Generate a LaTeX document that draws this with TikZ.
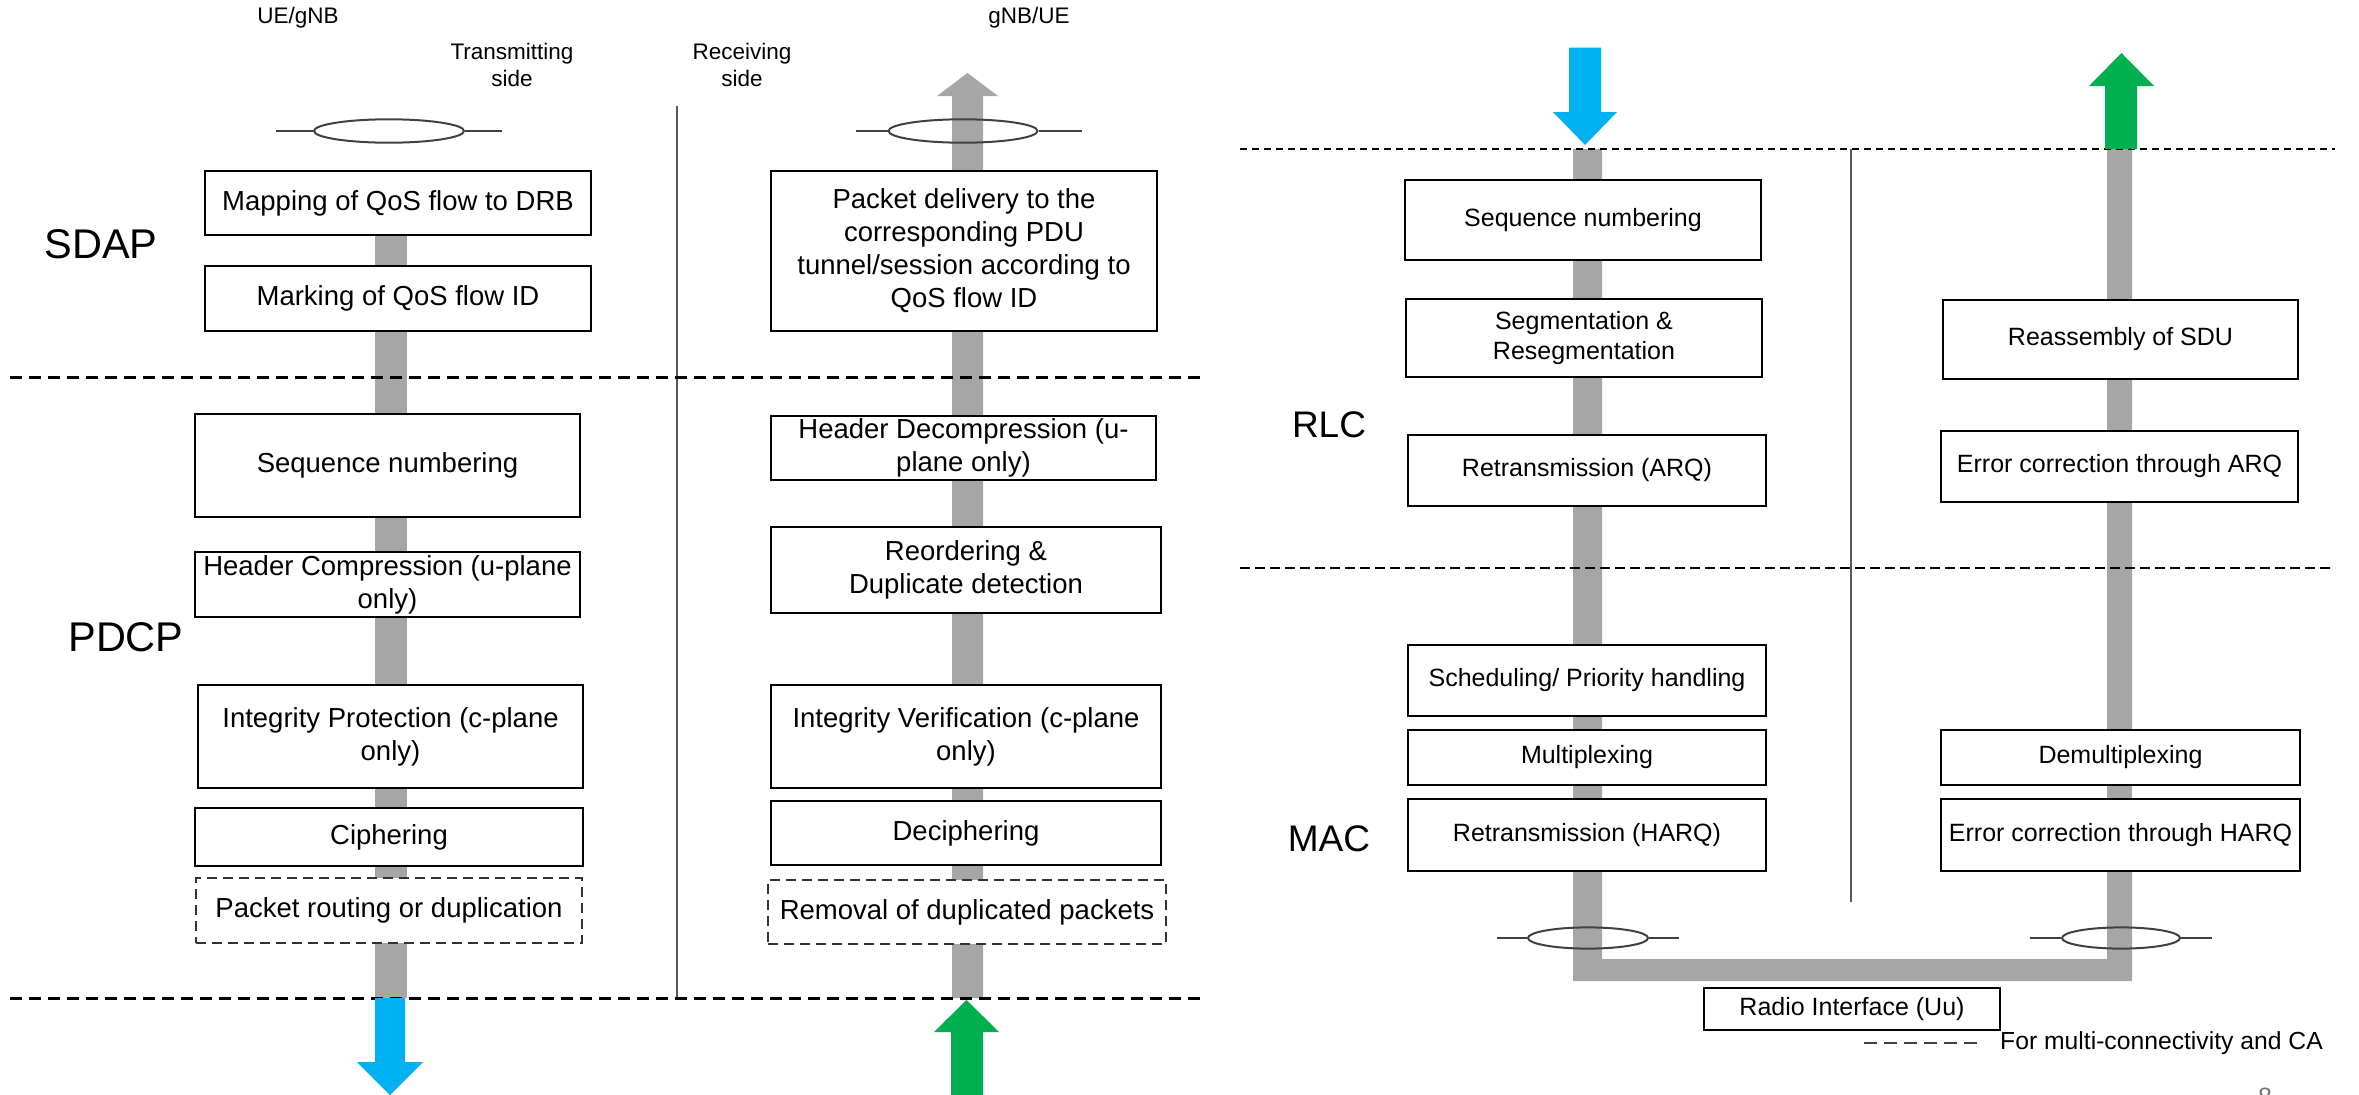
\documentclass[tikz,border=0pt]{standalone}
\usepackage{fontspec}
\setmainfont{Liberation Sans}
\usetikzlibrary{shapes.geometric}
\definecolor{barfill}{HTML}{A6A6A6}
\definecolor{txblue}{HTML}{00B0F0}
\definecolor{rxgreen}{HTML}{00B050}
\definecolor{rim}{HTML}{404040}
\definecolor{sepline}{HTML}{5A5A5A}

\begin{document}
\begin{tikzpicture}[x=1pt,y=-1pt,
  fnbox/.style={draw=black, line width=2pt, fill=white, inner sep=0pt, align=center,
                font=\fontsize{27.5}{33}\selectfont},
  fnboxr/.style={fnbox, font=\fontsize{25}{30}\selectfont},
  fnopt/.style={fnbox, draw=black!80, dash pattern=on 10pt off 6pt},
  layerlbl/.style={font=\fontsize{41.5}{48}\selectfont},
  layerlblr/.style={font=\fontsize{37}{44}\selectfont},
  headlbl/.style={font=\fontsize{22.5}{27}\selectfont, align=center},
  ring/.style={ellipse, draw=rim, line width=2pt, inner sep=0pt},
  stub/.style={draw=rim, line width=2pt},
  sepv/.style={draw=sepline, line width=2pt},
  layerdash/.style={draw=black, line width=3pt, dash pattern=on 12pt off 7pt},
  thindash/.style={draw=black, line width=1.5pt, dash pattern=on 7pt off 5pt},
  flowbar/.style={fill=barfill, draw=none},
]
\useasboundingbox (0,0) rectangle (2359,1095);

% ---------------- left panel: SDAP / PDCP ----------------
% gray data paths
\fill[barfill] (375,171) rectangle (407,998);
\fill[barfill] (952,998) -- (952,96) -- (937,96) -- (967.5,73) -- (998,96)
  -- (983,96) -- (983,998) -- cycle;

% side separator
\coordinate (sepLtop) at (677,106);
\coordinate (sepLbot) at (677,1000);
\draw[sepv] (sepLtop) -- (sepLbot);

% layer boundaries
\coordinate (dl1a) at (10,377);   \coordinate (dl1b) at (1200,377);
\coordinate (dl2a) at (10,998);   \coordinate (dl2b) at (1200,998);
\draw[layerdash] (dl1a) -- (dl1b);
\draw[layerdash] (dl2a) -- (dl2b);

% headings
\node[headlbl] (ueg) at (298,18) {UE/gNB};
\node[headlbl] (gnbue) at (1029,18) {gNB/UE};
\node[headlbl] (txside) at (512,65) {Transmitting\\side};
\node[headlbl] (rxside) at (742,65) {Receiving\\side};

\node[layerlbl] (sdap) at (101,244) {SDAP};
\node[layerlbl] (pdcp) at (126,637) {PDCP};

% transmitting side functions
\node[fnbox, minimum width=386, minimum height=64] (a1) at (398,203) {Mapping of QoS flow to DRB};
\node[fnbox, minimum width=386, minimum height=65] (a2) at (398,298.5) {Marking of QoS flow ID};
\node[fnbox, minimum width=385, minimum height=103] (a3) at (387.5,465.5) {Sequence numbering};
\node[fnbox, minimum width=385, minimum height=65] (a4) at (387.5,584.5) {Header Compression (u-plane\\only)};
\node[fnbox, minimum width=385, minimum height=103] (a5) at (390.5,736.5) {Integrity Protection (c-plane\\only)};
\node[fnbox, minimum width=388, minimum height=58] (a6) at (389,837) {Ciphering};
\node[fnopt, minimum width=386, minimum height=65] (a7) at (389,910.5) {Packet routing or duplication};

% receiving side functions
\node[fnbox, minimum width=386, minimum height=160] (b1) at (964,251)
  {Packet delivery to the\\corresponding PDU\\tunnel/session according to\\QoS flow ID};
\node[fnbox, minimum width=385, minimum height=64] (b2) at (963.5,448) {Header Decompression (u-\\plane only)};
\node[fnbox, minimum width=390, minimum height=86] (b3) at (966,570) {Reordering \&\\Duplicate detection};
\node[fnbox, minimum width=390, minimum height=103] (b4) at (966,736.5) {Integrity Verification (c-plane\\only)};
\node[fnbox, minimum width=390, minimum height=64] (b5) at (966,833) {Deciphering};
\node[fnopt, minimum width=398, minimum height=64] (b6) at (967,912) {Removal of duplicated packets};

% QoS flow bundles above SDAP
\node[ring, minimum width=150, minimum height=23.4] (e1) at (389,131) {};
\draw[stub] (e1.west) -- ++(-37,0);
\draw[stub] (e1.east) -- ++(37,0);
\node[ring, minimum width=149, minimum height=23.4] (e2) at (963,131) {};
\draw[stub] (e2.west) -- ++(-32,0);
\draw[stub] (e2.east) -- ++(43,0);

% flows to and from the lower layers
\fill[txblue] (375,998) -- (375,1062) -- (357,1062) -- (390,1095) -- (423,1062)
  -- (405,1062) -- (405,998) -- cycle;
\fill[rxgreen] (951,1100) -- (951,1032) -- (934,1032) -- (966.5,1000) -- (999,1032)
  -- (983,1032) -- (983,1100) -- cycle;

% ---------------- right panel: RLC / MAC ----------------
\fill[barfill] (1573,149) -- (1573,981) -- (2132,981) -- (2132,149) -- (2107,149)
  -- (2107,959) -- (1602,959) -- (1602,149) -- cycle;

\coordinate (sepRtop) at (1851,149);
\coordinate (sepRbot) at (1851,902);
\draw[sepv] (sepRtop) -- (sepRbot);

\coordinate (dl3a) at (1240,149);  \coordinate (dl3b) at (2335,149);
\coordinate (dl4a) at (1240,568);  \coordinate (dl4b) at (2335,568);
\draw[thindash] (dl3a) -- (dl3b);
\draw[layerdash, line width=2.5pt, dash pattern=on 10pt off 5pt] (dl4a) -- (dl4b);

\fill[txblue] (1569,47.5) -- (1569,112) -- (1553,112) -- (1585,145) -- (1617,112)
  -- (1601,112) -- (1601,47.5) -- cycle;
\fill[rxgreen] (2105,149) -- (2105,86) -- (2089,86) -- (2121.5,53) -- (2154,86)
  -- (2137,86) -- (2137,149) -- cycle;

\node[layerlblr] (rlc) at (1329,425) {RLC};
\node[layerlblr] (mac) at (1329,839) {MAC};

\node[fnboxr, minimum width=356, minimum height=80] (c1) at (1583,220) {Sequence numbering};
\node[fnboxr, minimum width=356, minimum height=78] (c2) at (1584,338) {Segmentation \&\\Resegmentation};
\node[fnboxr, minimum width=358, minimum height=71] (c3) at (1587,470.5) {Retransmission (ARQ)};
\node[fnboxr, minimum width=358, minimum height=71] (c4) at (1587,680.5) {Scheduling/ Priority handling};
\node[fnboxr, minimum width=358, minimum height=55] (c5) at (1587,757.5) {Multiplexing};
\node[fnboxr, minimum width=358, minimum height=72] (c6) at (1587,835) {Retransmission (HARQ)};

\node[fnboxr, minimum width=355, minimum height=79] (d1) at (2120.5,339.5) {Reassembly of SDU};
\node[fnboxr, minimum width=357, minimum height=71] (d2) at (2119.5,466.5) {Error correction through ARQ};
\node[fnboxr, minimum width=359, minimum height=55] (d3) at (2120.5,757.5) {Demultiplexing};
\node[fnboxr, minimum width=359, minimum height=72] (d4) at (2120.5,835) {Error correction through HARQ};

% carrier bundles above the radio interface
\node[ring, minimum width=120, minimum height=21.2] (e3) at (1588,938) {};
\draw[stub] (e3.west) -- ++(-30,0);
\draw[stub] (e3.east) -- ++(30,0);
\node[ring, minimum width=118, minimum height=21.2] (e4) at (2121,938) {};
\draw[stub] (e4.west) -- ++(-31,0);
\draw[stub] (e4.east) -- ++(31,0);

\node[fnboxr, minimum width=296, minimum height=42] (uu) at (1852,1009) {Radio Interface (Uu)};

% legend
\node[anchor=west, font=\fontsize{24.7}{30}\selectfont, inner sep=0pt] (legend) at (2000,1043)
  {For multi-connectivity and CA};
\coordinate (legdash) at (1864,1043);
\draw[draw=black!75, line width=2pt, dash pattern=on 13pt off 7pt] (legdash) -- ([xshift=-16pt]legend.west);

% page number
\node[anchor=base, font=\fontsize{25}{30}\selectfont, text=black!55] (pageno) at (2265,1105) {8};
\end{tikzpicture}
\end{document}
